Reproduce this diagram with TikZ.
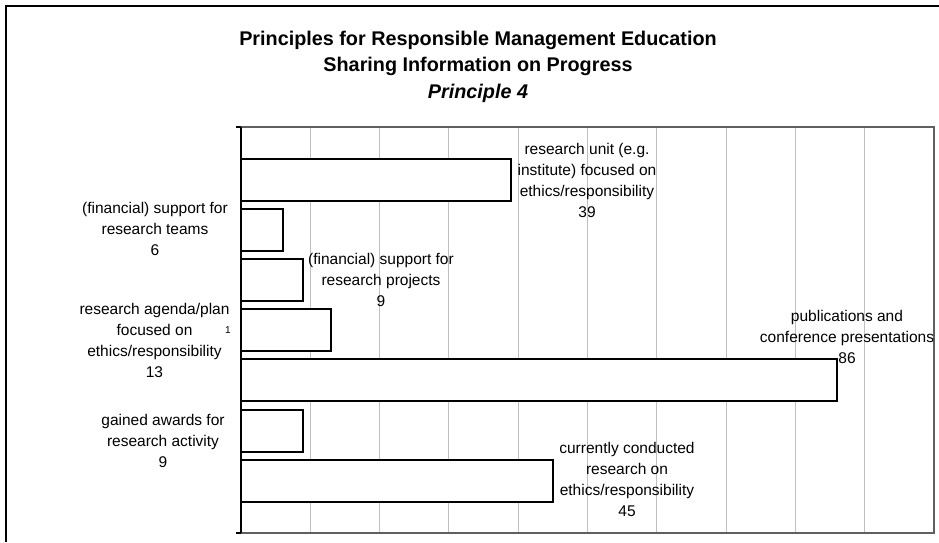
\documentclass[tikz,border=0pt]{standalone}
\usepackage{fontspec}
\setmainfont{Liberation Sans}
\begin{document}
\begin{tikzpicture}[x=1pt,y=-1pt,
  lbl/.style={inner sep=0pt, align=center, text height=11.5pt, text depth=3.5pt,
    font=\fontsize{15.5}{21}\selectfont},
  ttl/.style={inner sep=0pt, align=center, text height=14pt, text depth=4pt,
    font=\fontsize{19.8}{26.5}\selectfont\bfseries},
  bar/.style={draw=black, line width=2pt, fill=white},
  grid/.style={draw=gray!50, line width=0.9pt},
  frame/.style={draw=black, line width=1.6pt}]
\useasboundingbox (0,0) rectangle (939,542);
% outer chart frame (left and top visible)
\draw[frame] (6,542) -- (6,6) -- (939,6);
% gridlines
\foreach \k in {1,...,9} {
  \draw[grid] ({241+69.3*\k},127) -- ({241+69.3*\k},533);
}
% plot area border
\draw[draw=gray!75!black, line width=1.3pt] (241,127) -- (934,127) -- (934,533) -- (241,533);
% bars (value 0..100 over 241..934)
\foreach \v [count=\i from 0] in {39,6,9,13,86,9,45} {
  \draw[bar] (241,{159+50.1*\i}) rectangle ({241+6.93*\v},{201+50.1*\i});
}
% category axis
\draw[draw=black, line width=1.5pt] (241,127) -- (241,533);
\draw[draw=black, line width=1.3pt] (236,127) -- (241,127);
\draw[draw=black, line width=1.3pt] (236,533) -- (241,533);
% title
\node[ttl] (title) at (478,93) {Principles for Responsible Management Education\\Sharing Information on Progress\\\textit{Principle 4}};
% data labels
\node[lbl] (l1) at (587,213) {research unit (e.g.\\institute) focused on\\ethics/responsibility\\39};
\node[lbl] (l2) at (155,251.5) {(financial) support for\\research teams\\6};
\node[lbl] (l3) at (381,302.5) {(financial) support for\\research projects\\9};
\node[lbl] (l4) at (154.5,373) {research agenda/plan\\focused on\\ethics/responsibility\\13};
\node[inner sep=0pt, font=\fontsize{10}{12}\selectfont] (l4b) at (228,330) {1};
\node[lbl] (l5) at (847,359.5) {publications and\\conference presentations\\86};
\node[lbl] (l6) at (163,463.5) {gained awards for\\research activity\\9};
\node[lbl] (l7) at (627,512.5) {currently conducted\\research on\\ethics/responsibility\\45};
\end{tikzpicture}
\end{document}
